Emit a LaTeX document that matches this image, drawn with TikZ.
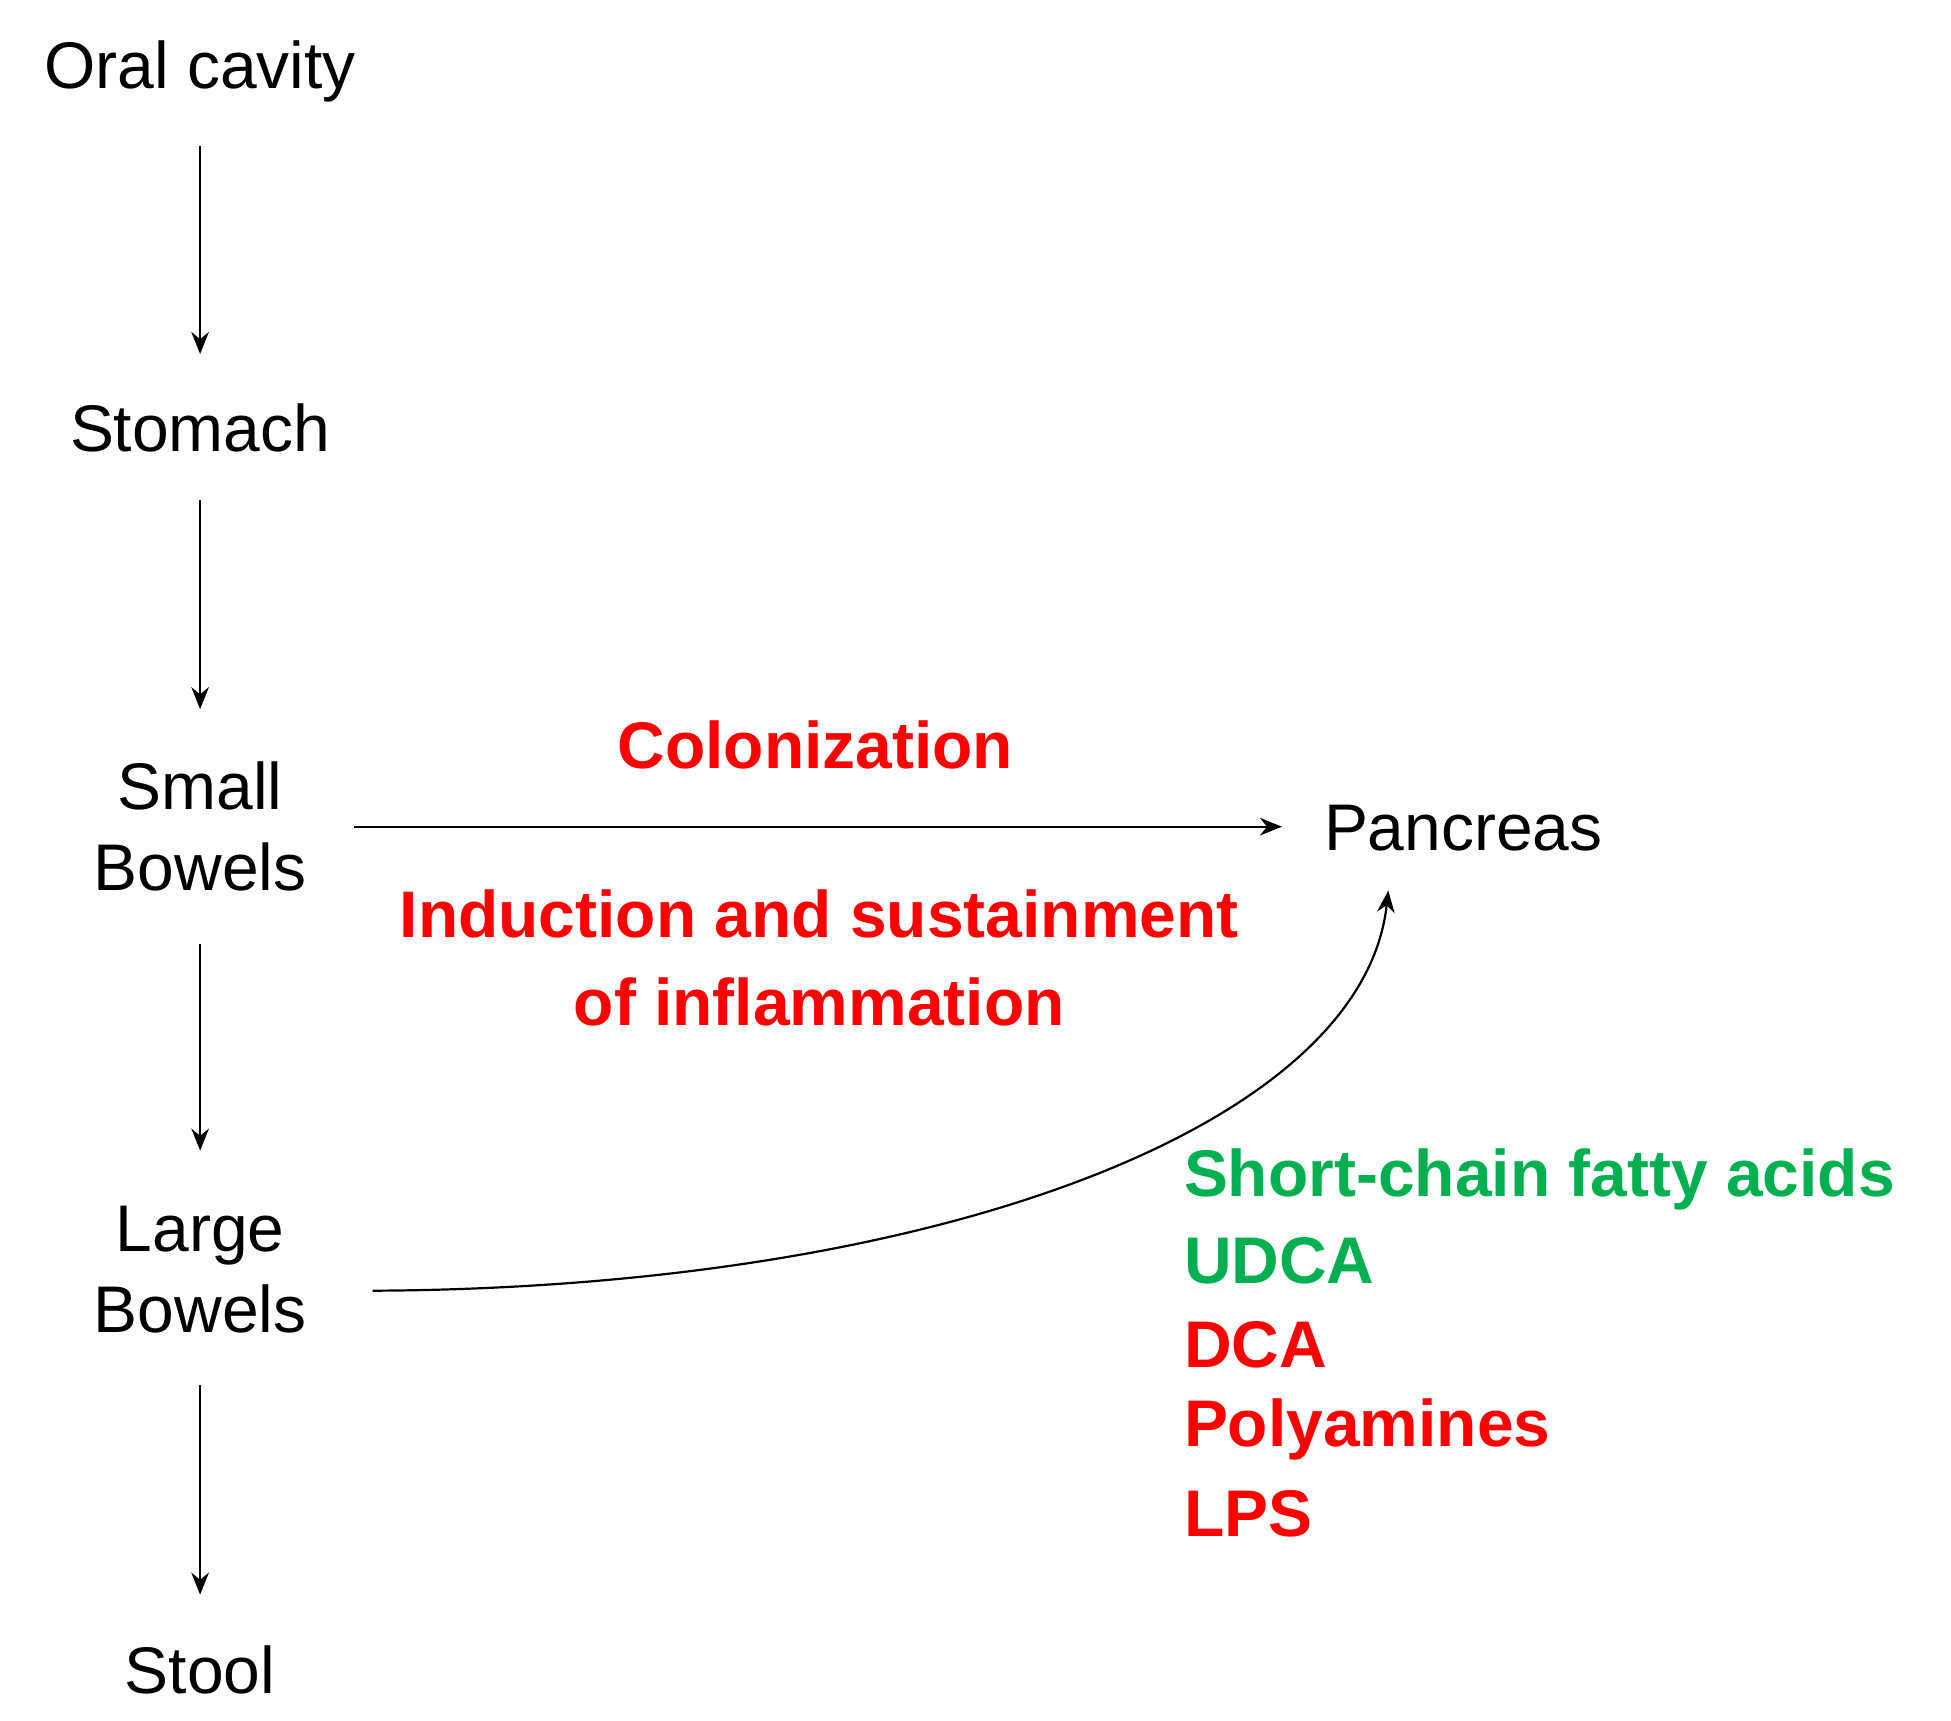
\documentclass[tikz,border=0pt]{standalone}
\usepackage{fontspec}
\setmainfont{Liberation Sans}
\usetikzlibrary{arrows.meta}
\definecolor{rd}{RGB}{255,0,0}
\definecolor{gr}{RGB}{0,176,80}
\begin{document}
\begin{tikzpicture}[x=1cm,y=-1cm,
  lbl/.style={font=\fontsize{15}{19}\selectfont, align=center, inner sep=0pt},
  bl/.style={font=\fontsize{15}{19}\selectfont\bfseries, inner sep=0pt},
  arr/.style={-{Stealth[length=5pt,width=4pt]}, line width=0.5pt}]
\useasboundingbox (0,0) rectangle (15.6,13.76);
\node[lbl] (oral) at (1.6,0.57) {Oral cavity};
\node[lbl] (stom) at (1.6,3.42) {Stomach};
\node[lbl] (small) at (1.6,6.61) {Small\\[-0.5pt]Bowels};
\node[lbl] (large) at (1.6,10.15) {Large\\[-0.5pt]Bowels};
\node[lbl] (stool) at (1.6,13.35) {Stool};
\node[lbl] (panc) at (11.7,6.62) {Pancreas};
\coordinate (a1) at (1.6,1.17); \coordinate (b1) at (1.6,2.83);
\coordinate (a2) at (1.6,4.00); \coordinate (b2) at (1.6,5.67);
\coordinate (a3) at (1.6,7.55); \coordinate (b3) at (1.6,9.20);
\coordinate (a4) at (1.6,11.07); \coordinate (b4) at (1.6,12.75);
\draw[arr] (a1) -- (b1);
\draw[arr] (a2) -- (b2);
\draw[arr] (a3) -- (b3);
\draw[arr] (a4) -- (b4);
\coordinate (h1) at (2.83,6.61); \coordinate (h2) at (10.25,6.61);
\draw[arr] (h1) -- (h2);
\coordinate (c1) at (2.98,10.32); \coordinate (c2) at (11.1,7.12);
\draw[arr] (c1) .. controls (7.5,10.3) and (10.9,9.0) .. (c2);
\node[bl, text=rd] (col) at (6.52,5.96) {Colonization};
\node[bl, text=rd, align=center] (ind) at (6.55,7.66) {Induction and sustainment\\[1pt]of inflammation};
\node[bl, text=gr, anchor=west] (scfa) at (9.46,9.43) {Short-chain fatty acids};
\node[bl, text=gr, anchor=west] (udca) at (9.46,10.08) {UDCA};
\node[bl, text=rd, anchor=west] (dca) at (9.46,10.75) {DCA};
\node[bl, text=rd, anchor=west] (poly) at (9.46,11.43) {Polyamines};
\node[bl, text=rd, anchor=west] (lps) at (9.46,12.10) {LPS};
\end{tikzpicture}
\end{document}
